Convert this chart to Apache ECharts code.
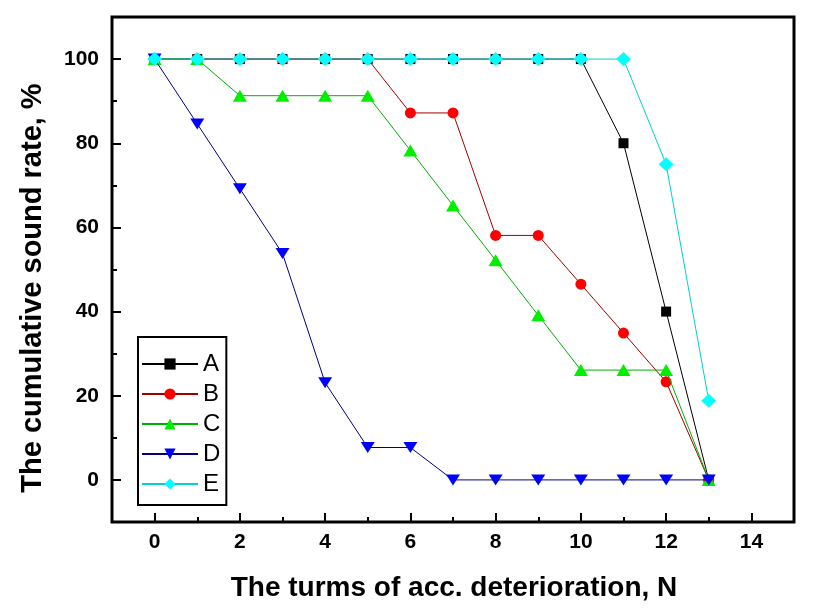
<!DOCTYPE html>
<html>
<head>
<meta charset="utf-8">
<script src="https://cdn.jsdelivr.net/npm/echarts@6/dist/echarts.min.js"></script>
<style>
html,body{margin:0;padding:0;background:#fff;}
#chart{width:813px;height:610px;}
</style>
</head>
<body>
<div id="chart"></div>
<script>
// ---- data ----
const xValues = [0,1,2,3,4,5,6,7,8,9,10,11,12,13];
const seriesA = [100,100,100,100,100,100,100,100,100,100,100,80,40,0];
const seriesB = [100,100,100,100,100,100,87.2,87.2,58.1,58.1,46.5,34.9,23.3,0];
const seriesC = [100,100,91.3,91.3,91.3,91.3,78.3,65.2,52.2,39.1,26.1,26.1,26.1,0];
const seriesD = [100,84.6,69.2,53.8,23.1,7.7,7.7,0,0,0,0,0,0,0];
const seriesE = [100,100,100,100,100,100,100,100,100,100,100,100,75,18.8];
const seriesNames = ['A','B','C','D','E'];
const xMajorTicks = [0,2,4,6,8,10,12,14];
const xMinorTicks = [1,3,5,7,9,11,13];
const yMajorTicks = [0,20,40,60,80,100];
const yMinorTicks = [10,30,50,70,90];
const xTitle = 'The turms of acc. deterioration, N';
const yTitle = 'The cumulative sound rate, %';

const FONT = 'Liberation Sans, Arial, sans-serif';
const pair = ys => xValues.map((x, i) => [x, ys[i]]);
const downTri = 'path://M0,0 L10,0 L5,8 Z';
const upTri = 'path://M5,0 L10,8.5 L0,8.5 Z';

const styles = [
  {data: seriesA, symbol: 'rect', size: 10, mc: '#000000', lc: '#000000'},
  {data: seriesB, symbol: 'circle', size: 11, mc: '#ff0000', lc: '#a00000'},
  {data: seriesC, symbol: upTri, size: [14, 12], mc: '#00ee00', lc: '#00b000'},
  {data: seriesD, symbol: downTri, size: [14, 11], mc: '#0000ff', lc: '#000080'},
  {data: seriesE, symbol: 'diamond', size: [15, 14], mc: '#00ffff', lc: '#00d0d0'}
];

const chart = echarts.init(document.getElementById('chart'), null, {renderer: 'canvas'});

const baseX = {type: 'value', min: -1, max: 15, gridIndex: 0, position: 'bottom',
  splitLine: {show: false}, axisLine: {show: false, onZero: false}};
const baseY = {type: 'value', min: -10, max: 110, gridIndex: 0, position: 'left',
  splitLine: {show: false}, axisLine: {show: false, onZero: false}};

chart.setOption({
  animation: false,
  backgroundColor: '#ffffff',
  grid: {left: 112, right: 19, top: 17, bottom: 88, show: true,
    borderColor: '#000', borderWidth: 3, backgroundColor: 'transparent'},
  xAxis: [
    Object.assign({}, baseX, {
      axisTick: {show: true, inside: true, length: 9, lineStyle: {width: 2, color: '#000'}, customValues: xMajorTicks},
      axisLabel: {show: true, margin: 10, fontFamily: FONT, fontSize: 21, fontWeight: 'bold', color: '#000', customValues: xMajorTicks}
    }),
    Object.assign({}, baseX, {
      axisTick: {show: true, inside: true, length: 5, lineStyle: {width: 2, color: '#000'}, customValues: xMinorTicks},
      axisLabel: {show: false}
    })
  ],
  yAxis: [
    Object.assign({}, baseY, {
      axisTick: {show: true, inside: true, length: 9, lineStyle: {width: 2, color: '#000'}, customValues: yMajorTicks},
      axisLabel: {show: true, margin: 13, fontFamily: FONT, fontSize: 21, fontWeight: 'bold', color: '#000', customValues: yMajorTicks}
    }),
    Object.assign({}, baseY, {
      axisTick: {show: true, inside: true, length: 5, lineStyle: {width: 2, color: '#000'}, customValues: yMinorTicks},
      axisLabel: {show: false}
    })
  ],
  legend: {
    orient: 'vertical', left: 138, top: 337,
    itemWidth: 56, itemHeight: 14, itemGap: 6,
    padding: [15, 6, 9, 3],
    borderColor: '#000', borderWidth: 2, backgroundColor: '#fff',
    textStyle: {fontFamily: FONT, fontSize: 24, color: '#000', lineHeight: 24},
    data: seriesNames
  },
  graphic: [
    {type: 'text', x: 454, y: 588, silent: true,
      style: {text: xTitle, font: 'bold 28px ' + FONT, fill: '#000', align: 'center', verticalAlign: 'middle'}},
    {type: 'text', x: 33, y: 288, rotation: Math.PI / 2, silent: true,
      style: {text: yTitle, font: 'bold 29px ' + FONT, fill: '#000', align: 'center', verticalAlign: 'middle'}}
  ],
  series: styles.map((s, i) => ({
    name: seriesNames[i], type: 'line', xAxisIndex: 0, yAxisIndex: 0,
    data: pair(s.data), symbol: s.symbol, symbolSize: s.size, showSymbol: true,
    lineStyle: {width: 1, color: s.lc},
    itemStyle: {color: s.mc, borderWidth: 0},
    z: 2 + i
  }))
});
</script>
</body>
</html>
